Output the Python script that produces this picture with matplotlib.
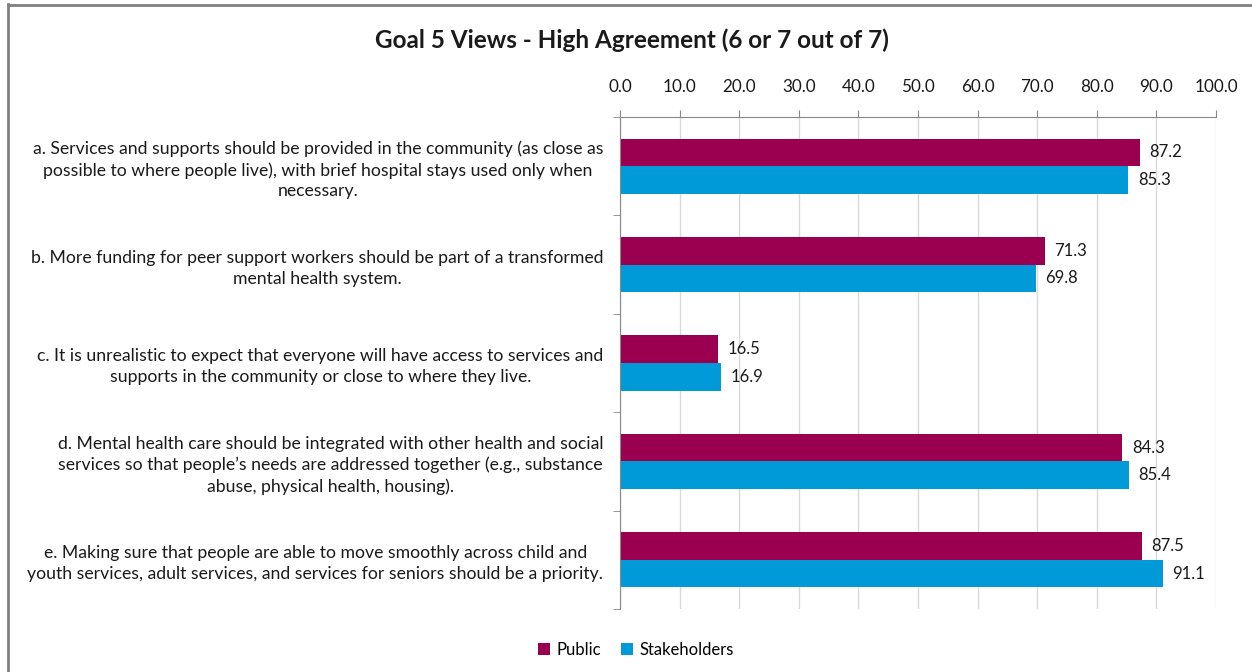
import matplotlib
matplotlib.use("Agg")
import matplotlib.pyplot as plt
from matplotlib.lines import Line2D
import numpy as np

plt.rcParams['font.family'] = ['Lato', 'DejaVu Sans']

categories = [
    "a. Services and supports should be provided in the community (as close as\npossible to where people live), with brief hospital stays used only when\nnecessary.",
    "b. More funding for peer support workers should be part of a transformed\nmental health system.",
    "c. It is unrealistic to expect that everyone will have access to services and\nsupports in the community or close to where they live.",
    "d. Mental health care should be integrated with other health and social\nservices so that people\u2019s needs are addressed together (e.g., substance\nabuse, physical health, housing).",
    "e. Making sure that people are able to move smoothly across child and\nyouth services, adult services, and services for seniors should be a priority.",
]
public = [87.2, 71.3, 16.5, 84.3, 87.5]
stakeholders = [85.3, 69.8, 16.9, 85.4, 91.1]
ticks = [0, 10, 20, 30, 40, 50, 60, 70, 80, 90, 100]

c_public = "#9b0050"
c_stake = "#009ad9"
text_col = "#1a1a1a"

fig = plt.figure(figsize=(12.52, 6.72), dpi=100)
ax = fig.add_axes([620/1252, 1-609/672, 596/1252, (609-117)/672])

n = len(categories)
y = np.arange(n)
h = 0.28
ax.barh(y - h/2, public, height=h, color=c_public, label="Public")
ax.barh(y + h/2, stakeholders, height=h, color=c_stake, label="Stakeholders")

for yi, v in zip(y - h/2, public):
    ax.text(v + 1.6, yi, f"{v:.1f}", va="center", ha="left", fontsize=12, color=text_col)
for yi, v in zip(y + h/2, stakeholders):
    ax.text(v + 1.6, yi, f"{v:.1f}", va="center", ha="left", fontsize=12, color=text_col)

ax.set_xlim(0, 100)
ax.set_ylim(n - 0.5, -0.5)
ax.xaxis.tick_top()
ax.set_xticks(ticks)
ax.set_xticklabels([f"{t:.1f}" for t in ticks], fontsize=12.3, color=text_col)
ax.tick_params(axis="x", length=5, color="#888888", pad=10.5)
ax.grid(axis="x", color="#d9d9d9", linewidth=1)
ax.set_axisbelow(True)

ax.set_yticks(y)
ax.set_yticklabels(categories, fontsize=12.7, color=text_col, multialignment="center",
                   linespacing=1.35)
ax.tick_params(axis="y", length=0, pad=12)
ax.set_yticks(np.arange(n + 1) - 0.5, minor=True)
ax.tick_params(axis="y", which="minor", length=5, color="#888888")

for s in ["right", "bottom"]:
    ax.spines[s].set_visible(False)
ax.spines["top"].set_color("#888888")
ax.spines["left"].set_color("#888888")

fig.text(632/1252, 1-40/672, "Goal 5 Views - High Agreement (6 or 7 out of 7)",
         ha="center", va="center", fontsize=17.5, fontweight="bold", color=text_col)

fig.legend(loc="center", bbox_to_anchor=(636/1252, 1-650/672), ncol=2, frameon=False,
           fontsize=12, handlelength=0.7, handleheight=0.7, columnspacing=1.2,
           handletextpad=0.4)

fig.add_artist(Line2D([8/1252, 8/1252], [0, 1-4/672], transform=fig.transFigure,
                      color="#808080", linewidth=2))
fig.add_artist(Line2D([8/1252, 1], [1-5/672, 1-5/672], transform=fig.transFigure,
                      color="#808080", linewidth=2))

fig.savefig("out.png", dpi=100, facecolor="white")
